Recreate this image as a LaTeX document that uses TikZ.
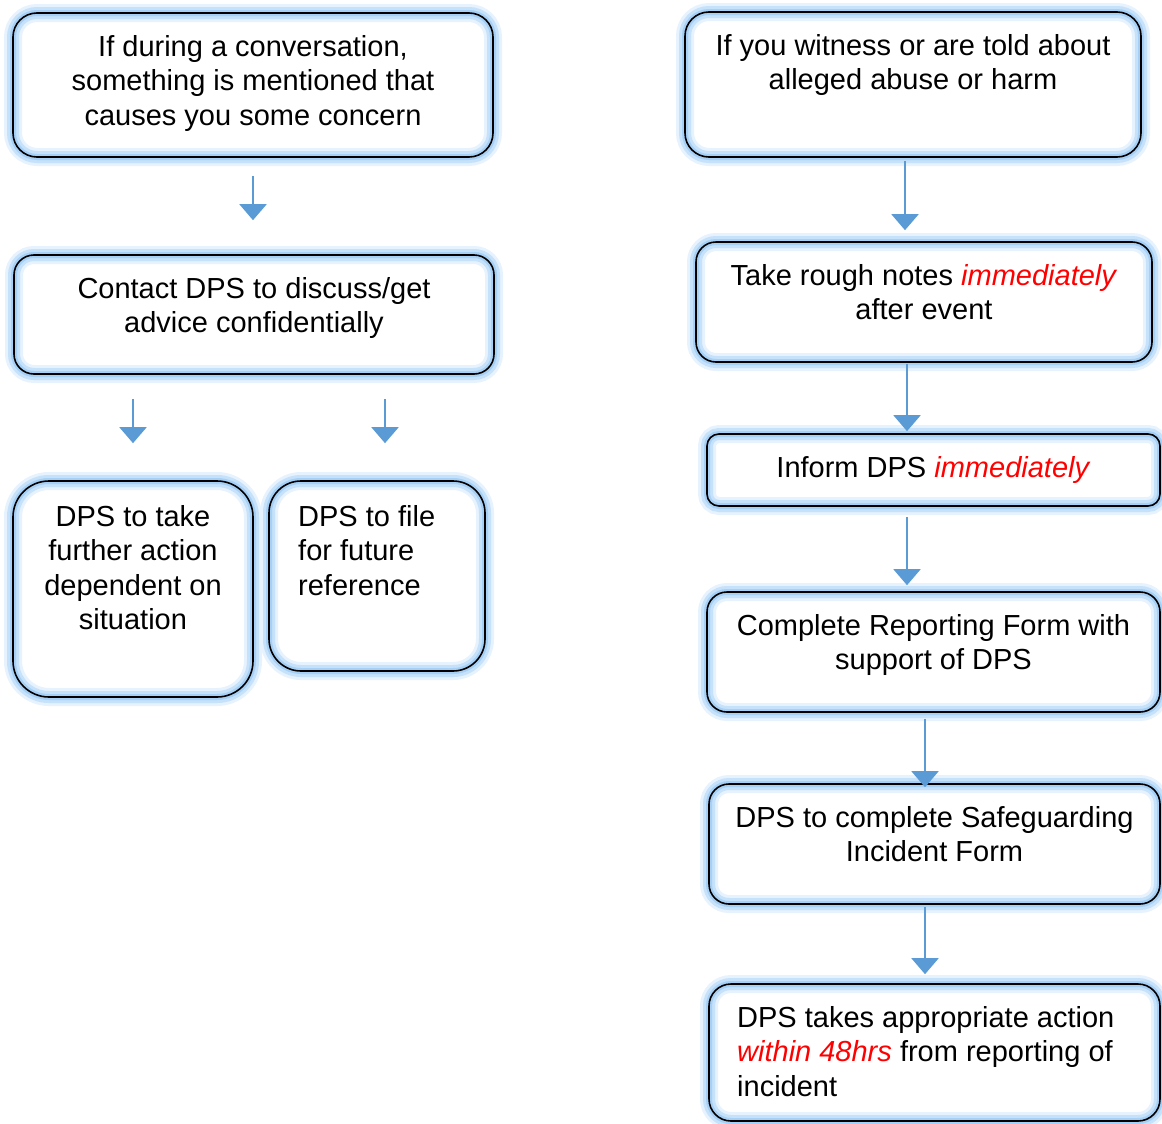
\documentclass[tikz,border=0pt]{standalone}
\usepackage{fontspec}
\setmainfont{Liberation Sans}
\usepackage{xcolor}
\usetikzlibrary{arrows.meta,positioning}

\definecolor{flowblue}{HTML}{5B9BD5}
\definecolor{glowblue}{HTML}{A6D0F6}
\definecolor{glowmid}{HTML}{C6E1FA}
\definecolor{glowpale}{HTML}{E6F2FD}

\begin{document}
\begin{tikzpicture}[
            x = 0.5pt, y = -0.5pt, % one unit is one pixel, y runs down
            > = {Triangle[width=13.5pt, length=8pt]}, % arrow head style
            line width = 1pt
        ]

        \tikzstyle{box}=[
            draw = black,
            line width = 0.8pt,
            inner sep = 0pt,
            preaction = {fill = white},
            preaction = {draw = glowpale, line width = 9pt},
            preaction = {draw = glowmid, line width = 6pt},
            preaction = {draw = glowblue, line width = 3pt}
        ]
        \tikzstyle{txt}=[
            align = center,
            anchor = north,
            inner sep = 0pt,
            font = \fontsize{14.5pt}{17.25pt}\selectfont
        ]

        \useasboundingbox (0,0) rectangle (1162,1124);

        % Left column: a concern
        \node[box, minimum width=240pt, minimum height=72pt, rounded corners=12pt] (talk) at (253,85) {};
        \node[box, minimum width=240pt, minimum height=59.5pt, rounded corners=10pt] (contact) at (254,314.5) {};
        \node[box, minimum width=120pt, minimum height=108pt, rounded corners=18pt] (further) at (133,589) {};
        \node[box, minimum width=108pt, minimum height=95pt, rounded corners=16pt] (file) at (377,576) {};

        \node[txt] (talk-t) at ([yshift=-11pt]talk.north) {If during a conversation,\\something is mentioned that\\causes you some concern};
        \node[txt] (contact-t) at ([yshift=-11pt]contact.north) {Contact DPS to discuss/get\\advice confidentially};
        \node[txt] (further-t) at ([yshift=-12pt]further.north) {DPS to take\\further action\\dependent on\\situation};
        \node[txt, align=left, anchor=north west] (file-t) at ([xshift=14.5pt, yshift=-12pt]file.north west) {DPS to file\\for future\\reference};

        % Right column: alleged abuse
        \node[box, minimum width=228pt, minimum height=72.5pt, rounded corners=12pt] (witness) at (913,84.5) {};
        \node[box, minimum width=228pt, minimum height=60pt, rounded corners=10pt] (notes) at (924,302) {};
        \node[box, minimum width=226.5pt, minimum height=36pt, rounded corners=6pt] (inform) at (933.5,470) {};
        \node[box, minimum width=226.5pt, minimum height=60pt, rounded corners=10pt] (report) at (933.5,652) {};
        \node[box, minimum width=225.5pt, minimum height=60pt, rounded corners=10pt] (incident) at (934.5,844) {};
        \node[box, minimum width=225.5pt, minimum height=68.5pt, rounded corners=11pt] (action) at (934.5,1052.5) {};

        \node[txt] (witness-t) at ([yshift=-11pt]witness.north) {If you witness or are told about\\alleged abuse or harm};
        \node[txt] (notes-t) at ([yshift=-11pt]notes.north) {Take rough notes \textcolor{red}{\textit{immediately}}\\after event};
        \node[txt] (inform-t) at ([yshift=-11pt]inform.north) {Inform DPS \textcolor{red}{\textit{immediately}}};
        \node[txt] (report-t) at ([yshift=-11pt]report.north) {Complete Reporting Form with\\support of DPS};
        \node[txt] (incident-t) at ([yshift=-11pt]incident.north) {DPS to complete Safeguarding\\Incident Form};
        \node[txt, align=left, anchor=north west] (action-t) at ([xshift=14pt, yshift=-11pt]action.north west) {DPS takes appropriate action\\\textcolor{red}{\textit{within 48hrs}} from reporting of\\incident};

        % Arrows
        \path[->, flowblue] (talk.south -| 253,0) edge[shorten <=9pt, shorten >=17pt] (contact.north -| 253,0);
        \path[->, flowblue] (contact.south -| 133,0) edge[shorten <=12pt, shorten >=18.5pt] (further.north -| 133,0);
        \path[->, flowblue] (contact.south -| 385,0) edge[shorten <=12pt, shorten >=18.5pt] (file.north -| 385,0);

        \path[->, flowblue] (witness.south -| 905,0) edge[shorten <=1.5pt, shorten >=5.5pt] (notes.north -| 905,0);
        \path[->, flowblue] (notes.south -| 907,0) edge[shorten <=0.5pt, shorten >=1pt] (inform.north -| 907,0);
        \path[->, flowblue] (inform.south -| 907,0) edge[shorten <=5pt, shorten >=3pt] (report.north -| 907,0);
        \path[->, flowblue] (report.south -| 925,0) edge[shorten <=3pt, shorten >=-2pt] (incident.north -| 925,0);
        \path[->, flowblue] (incident.south -| 925,0) edge[shorten <=1pt, shorten >=4.5pt] (action.north -| 925,0);

\end{tikzpicture}
\end{document}
